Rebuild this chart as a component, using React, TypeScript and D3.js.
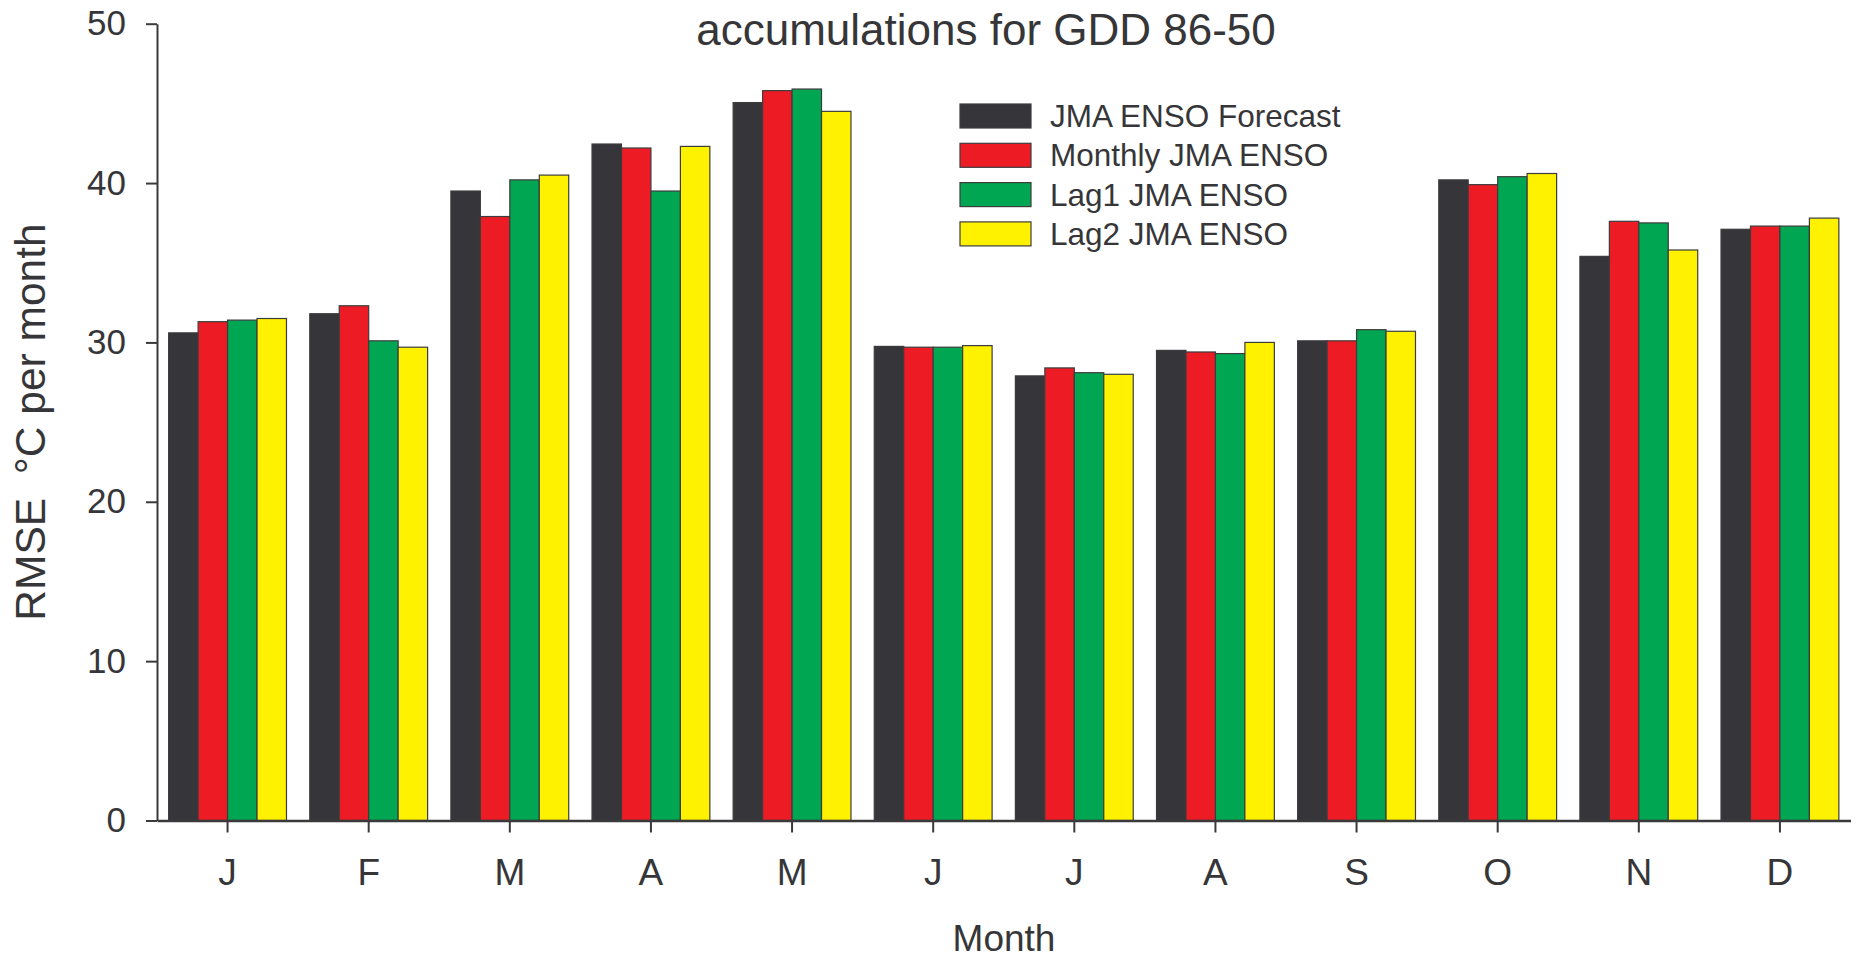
import { useEffect, useRef } from 'react';
import * as d3 from 'd3';

// RMSE of monthly GDD 86-50 accumulations, by forecast source
const MONTHS = ['J', 'F', 'M', 'A', 'M', 'J', 'J', 'A', 'S', 'O', 'N', 'D'];
const SERIES = ['JMA ENSO Forecast', 'Monthly JMA ENSO', 'Lag1 JMA ENSO', 'Lag2 JMA ENSO'];

const jmaForecast = [30.6, 31.8, 39.5, 42.45, 45.05, 29.75, 27.9, 29.5, 30.1, 40.2, 35.4, 37.1];
const monthlyJma = [31.3, 32.3, 37.9, 42.2, 45.8, 29.7, 28.4, 29.4, 30.1, 39.9, 37.6, 37.3];
const lag1Jma = [31.4, 30.1, 40.2, 39.5, 45.9, 29.7, 28.1, 29.3, 30.8, 40.4, 37.5, 37.3];
const lag2Jma = [31.5, 29.7, 40.5, 42.3, 44.5, 29.8, 28.0, 30.0, 30.7, 40.6, 35.8, 37.8];

const Y_TICKS = [0, 10, 20, 30, 40, 50];

const COLORS = {
    text: '#363639',
    axis: '#3a3a3c',
    stroke: '#3c3c3e',
    bars: ['#36363a', '#ed1c24', '#00a651', '#fff200'],
};

const FONT = '"Liberation Sans", Arial, Helvetica, sans-serif';

const WIDTH = 1856;
const HEIGHT = 962;

export default function App() {
    const svgRef = useRef<SVGSVGElement | null>(null);

    useEffect(() => {
        if (!svgRef.current) return;
        const svg = d3.select(svgRef.current);
        svg.selectAll('*').remove();

        const left = 157;
        const right = 1850.5;
        const top = 23.7;
        const bottom = 820.5;

        const values = [jmaForecast, monthlyJma, lag1Jma, lag2Jma];
        const rows = MONTHS.map((m, i) => ({ idx: i, month: m, vals: values.map(v => v[i]) }));

        const x0 = d3.scaleBand<number>()
            .domain(d3.range(MONTHS.length))
            .range([left, right])
            .paddingInner(0.165)
            .paddingOuter(0.0825);

        const x1 = d3.scaleBand<number>()
            .domain(d3.range(SERIES.length))
            .range([0, x0.bandwidth()])
            .padding(0);

        const y = d3.scaleLinear().domain([0, 50]).range([bottom, top]);

        // Bars
        const groups = svg.append('g')
            .selectAll('g')
            .data(rows)
            .join('g')
            .attr('transform', d => `translate(${x0(d.idx)},0)`);

        groups.selectAll('rect')
            .data(d => d.vals.map((v, s) => ({ v, s })))
            .join('rect')
            .attr('x', d => x1(d.s)!)
            .attr('y', d => y(d.v))
            .attr('width', x1.bandwidth())
            .attr('height', d => y(0) - y(d.v))
            .attr('fill', d => COLORS.bars[d.s])
            .attr('stroke', COLORS.stroke)
            .attr('stroke-width', 1.2);

        // Y axis
        const yAxis = svg.append('g')
            .attr('transform', `translate(${left},0)`)
            .call(d3.axisLeft(y).tickValues(Y_TICKS).tickSize(11).tickPadding(20).tickSizeOuter(0));
        yAxis.select('.domain').attr('stroke', COLORS.axis).attr('stroke-width', 2);
        yAxis.selectAll('line').attr('stroke', COLORS.axis).attr('stroke-width', 2);
        yAxis.selectAll('text')
            .attr('fill', COLORS.text)
            .style('font-family', FONT)
            .style('font-size', '35px');

        // X axis
        const xAxis = svg.append('g')
            .attr('transform', `translate(0,${bottom})`)
            .call(d3.axisBottom(x0).tickFormat(i => MONTHS[i as number]).tickSize(12).tickPadding(26).tickSizeOuter(0));
        xAxis.select('.domain').attr('stroke', COLORS.axis).attr('stroke-width', 2.5);
        xAxis.selectAll('line').attr('stroke', COLORS.axis).attr('stroke-width', 2);
        xAxis.selectAll('text')
            .attr('fill', COLORS.text)
            .style('font-family', FONT)
            .style('font-size', '37px');

        // Axis titles
        svg.append('text')
            .attr('x', 1004).attr('y', 951)
            .attr('text-anchor', 'middle')
            .attr('fill', COLORS.text)
            .style('font-family', FONT).style('font-size', '37px')
            .text('Month');

        svg.append('text')
            .attr('transform', `translate(45,422) rotate(-90)`)
            .attr('text-anchor', 'middle')
            .attr('fill', COLORS.text)
            .style('font-family', FONT).style('font-size', '42.5px')
            .style('white-space', 'pre')
            .text('RMSE  \u00B0C per month');

        // Title (first line is cropped above the frame)
        svg.append('text')
            .attr('x', 986).attr('y', 45)
            .attr('text-anchor', 'middle')
            .attr('fill', COLORS.text)
            .style('font-family', FONT).style('font-size', '44px')
            .text('accumulations for GDD 86-50');

        // Legend
        const legend = svg.append('g').attr('transform', 'translate(960,104)');
        SERIES.forEach((name, i) => {
            legend.append('rect')
                .attr('x', 0).attr('y', i * 39.3)
                .attr('width', 71).attr('height', 24)
                .attr('fill', COLORS.bars[i])
                .attr('stroke', COLORS.stroke)
                .attr('stroke-width', 1.2);
            legend.append('text')
                .attr('x', 90).attr('y', i * 39.3 + 23)
                .attr('fill', COLORS.text)
                .style('font-family', FONT).style('font-size', '31.5px')
                .text(name);
        });
    }, []);

    return (
        <>
            <style>{'body{margin:0}'}</style>
            <svg ref={svgRef} width={WIDTH} height={HEIGHT} style={{ display: 'block', background: '#fff' }} />
        </>
    );
}
